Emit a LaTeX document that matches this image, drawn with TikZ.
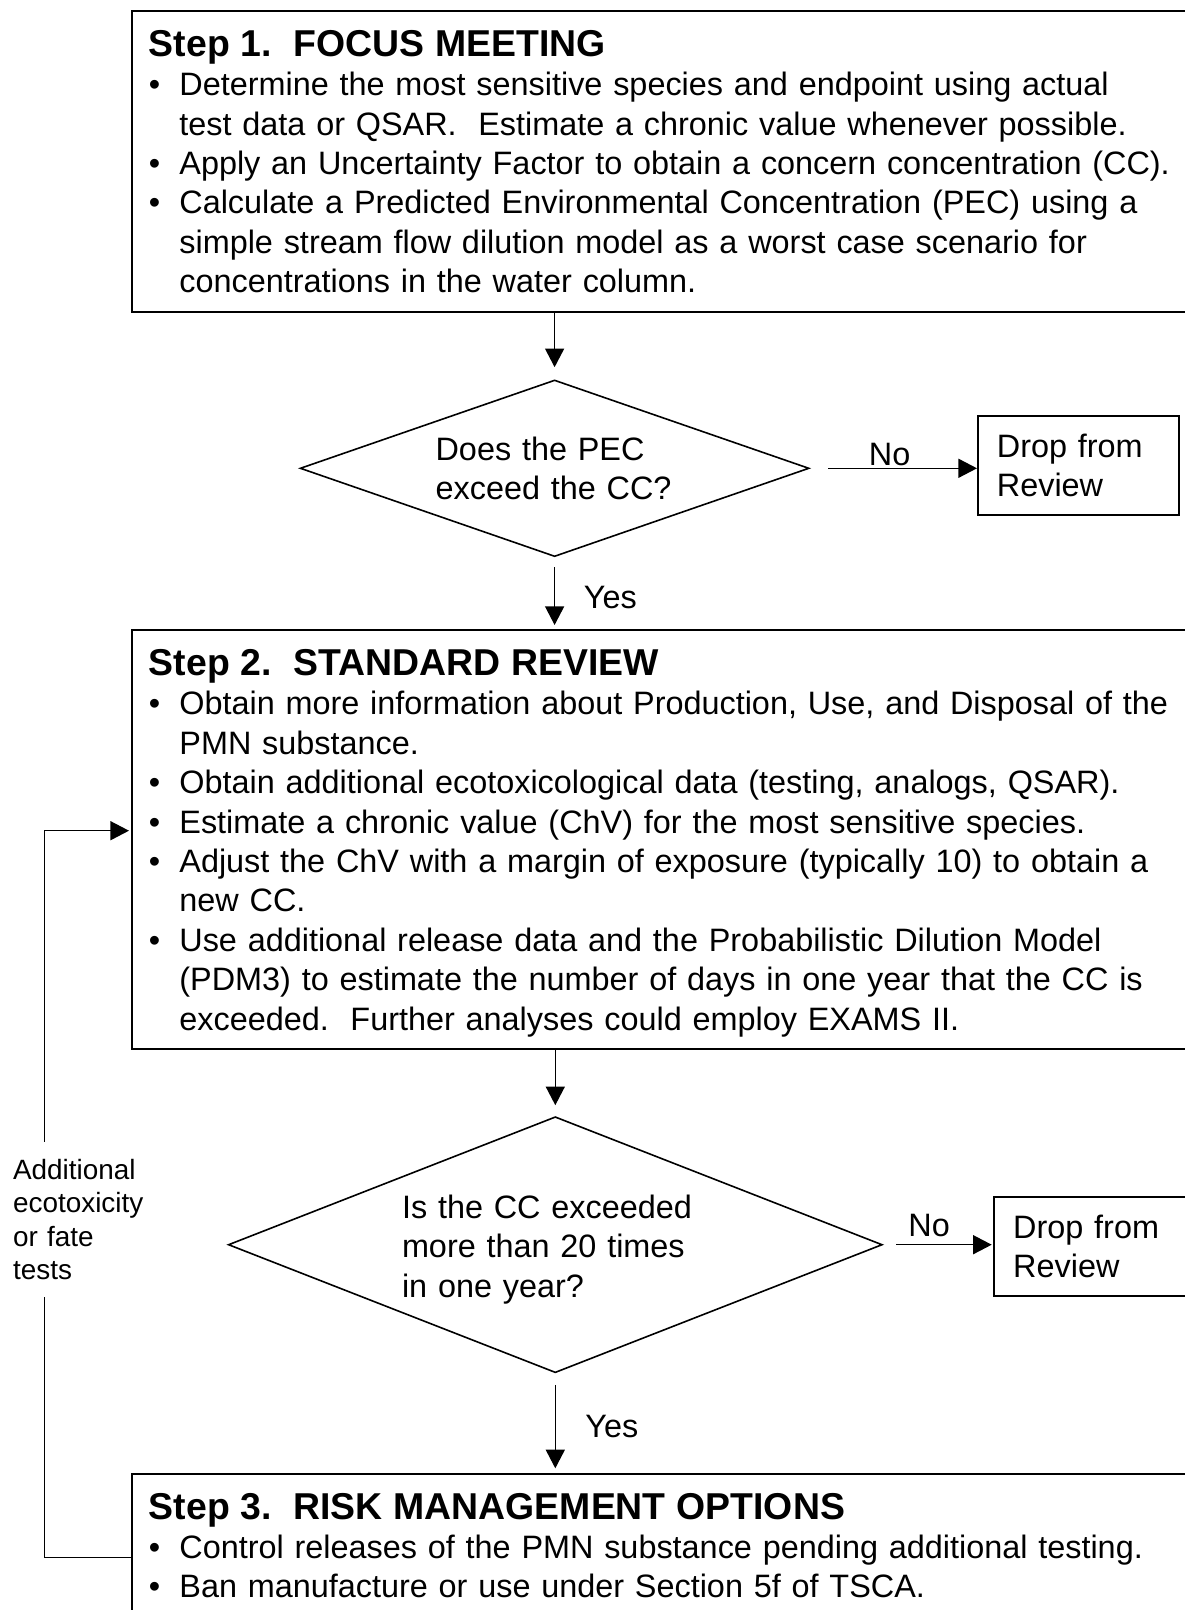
\documentclass[tikz,border=0pt]{standalone}
\usepackage{fontspec}
\setmainfont{Liberation Sans}
\usetikzlibrary{arrows.meta, shapes.geometric, calc}
\newcommand{\stepbul}{\makebox[15.25pt][l]{\textbullet}}
\newcommand{\stepcont}{\hspace*{15.25pt}}
\newcommand{\hstrut}[1]{\rule{0pt}{#1}}
\newcommand{\dstrut}[1]{\rule[-#1]{0pt}{#1}}
\newcommand{\stephead}[1]{\hstrut{22.75pt}{\fontsize{18.7pt}{19.7pt}\selectfont\bfseries #1}}
\frenchspacing

\begin{document}
\begin{tikzpicture}[x=0.5pt, y=-0.5pt, >={Triangle[length=9.3pt, width=9.5pt]},
    font={\fontsize{16.2pt}{19.7pt}\selectfont\parindent=0pt},
    stepbox/.style={draw, line width=0.9pt, anchor=north west, align=left,
      text width=532pt, inner xsep=8.5pt, inner ysep=0pt},
    dropbox/.style={draw, line width=0.9pt, anchor=north west, align=left,
      inner xsep=9.5pt, inner ysep=0pt},
    query/.style={diamond, draw, line width=0.8pt, inner sep=0pt,
      shape aspect=2.7, align=left},
    link/.style={->, line width=0.7pt},
    tag/.style={anchor=base west, inner sep=0pt}]
  \useasboundingbox (0,0) rectangle (1184,1610);

  \node[stepbox] (step1) at (131,10) {\stephead{Step 1.\ \ FOCUS MEETING}\\
    \stepbul Determine the most sensitive species and endpoint using actual\\
    \stepcont test data or QSAR.\ \ Estimate a chronic value whenever possible.\\
    \stepbul Apply an Uncertainty Factor to obtain a concern concentration (CC).\\
    \stepbul Calculate a Predicted Environmental Concentration (PEC) using a\\
    \stepcont simple stream flow dilution model as a worst case scenario for\\
    \stepcont concentrations in the water column.\dstrut{9.5pt}};

  \node[query, minimum width=254.5pt, minimum height=88.3pt, text width=119pt]
    (pec) at (554.6,468.3) {Does the PEC\\exceed the CC?};
  \node[dropbox, text width=81.5pt] (drop1) at (977,415)
    {\hstrut{20.75pt}Drop from\\Review\dstrut{9pt}};

  \node[stepbox] (step2) at (131,629) {\stephead{Step 2.\ \ STANDARD REVIEW}\\
    \stepbul Obtain more information about Production, Use, and Disposal of the\\
    \stepcont PMN substance.\\
    \stepbul Obtain additional ecotoxicological data (testing, analogs, QSAR).\\
    \stepbul Estimate a chronic value (ChV) for the most sensitive species.\\
    \stepbul Adjust the ChV with a margin of exposure (typically 10) to obtain a\\
    \stepcont new CC.\\
    \stepbul Use additional release data and the Probabilistic Dilution Model\\
    \stepcont (PDM3) to estimate the number of days in one year that the CC is\\
    \stepcont exceeded.\ \ Further analyses could employ EXAMS II.\dstrut{9.5pt}};

  \node[query, minimum width=327pt, minimum height=128pt, text width=153.3pt]
    (exceed) at (555.3,1244.7)
    {\hstrut{16.5pt}Is the CC exceeded\\more than 20 times\\in one year?};
  \node[dropbox, text width=95pt] (drop2) at (993.3,1196)
    {\hstrut{20.75pt}Drop from\\Review\dstrut{9pt}};

  \node[stepbox] (step3) at (131,1472.7) {\stephead{Step 3.\ \ RISK MANAGEMENT OPTIONS}\\
    \stepbul Control releases of the PMN substance pending additional testing.\\
    \stepbul Ban manufacture or use under Section 5f of TSCA.\dstrut{9.5pt}};

  \draw[link, shorten >=6pt] (pec.north |- step1.south) -- (pec.north);
  \draw[link, shorten <=5pt, shorten >=2pt] (pec.south) -- (pec.south |- step2.north);
  \draw[link, shorten <=9.25pt] (pec.east) -- (pec.east -| drop1.west);
  \draw[link, shorten >=5.35pt] (exceed.north |- step2.south) -- (exceed.north);
  \draw[link, shorten <=5.65pt, shorten >=2.2pt] (exceed.south) -- (exceed.south |- step3.north);
  \draw[link, shorten <=6.5pt, shorten >=0.8pt] (exceed.east) -- (exceed.east -| drop2.west);
  \node[tag] (no1) at (868.5,465) {No};
  \node[tag] (yes1) at (583.5,608.3) {Yes};
  \node[tag] (no2) at (908,1236) {No};
  \node[tag] (yes2) at (585,1437.3) {Yes};

  \coordinate (fbbend) at (44.3,1557.7);
  \coordinate (fbturn) at (44.3,830.7);
  \draw[link, shorten >=1pt] (fbbend -| step3.west) -- (fbbend) -- (fbturn)
    -- (fbturn -| step2.west);
  \node[anchor=north west, fill=white, align=left, text width=68pt,
    inner xsep=1pt, inner ysep=8.5pt, font={\fontsize{13.95pt}{16.65pt}\selectfont}]
    (extra) at (10.7,1142) {Additional\\ecotoxicity\\or fate\\tests};
\end{tikzpicture}
\end{document}
